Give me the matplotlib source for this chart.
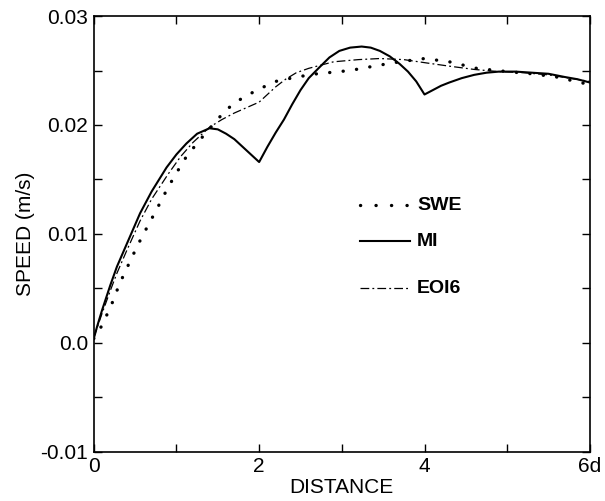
import matplotlib
matplotlib.use("Agg")
import matplotlib.pyplot as plt
from matplotlib.lines import Line2D
from matplotlib.ticker import FixedLocator, FixedFormatter, MultipleLocator

plt.rcParams['font.family'] = ['Liberation Sans', 'DejaVu Sans']

# MI (trait plein)
x_mi = [0, 0.04, 0.1, 0.2, 0.28, 0.4, 0.56, 0.7, 0.88, 1.0, 1.12, 1.25, 1.4,
        1.5, 1.6, 1.7, 1.8, 1.9, 2.0,
        2.1, 2.2, 2.3, 2.4, 2.5, 2.6, 2.73, 2.85, 2.97, 3.1, 3.24, 3.35, 3.46,
        3.58, 3.7, 3.8, 3.9, 4.0,
        4.1, 4.2, 4.3, 4.45, 4.6, 4.75, 4.9, 5.1, 5.3, 5.5, 5.7, 5.85, 6.0]
y_mi = [0.0004, 0.0015, 0.0030, 0.0053, 0.0070, 0.0091, 0.0119, 0.0139, 0.0161,
        0.0173, 0.0183, 0.0192, 0.0197,
        0.0196, 0.0192, 0.0187, 0.0180, 0.0173, 0.0166,
        0.0180, 0.0193, 0.0205, 0.0219, 0.0232, 0.0243, 0.0253, 0.0262, 0.0268,
        0.0271, 0.0272, 0.0271, 0.0268, 0.0263, 0.0256, 0.0249, 0.0240, 0.0228,
        0.0232, 0.0236, 0.0239, 0.0243, 0.0246, 0.0248, 0.0249, 0.0249, 0.0248,
        0.0247, 0.0244, 0.0242, 0.0239]

# EOI6 (trait mixte)
x_eoi = [0, 0.1, 0.2, 0.28, 0.4, 0.56, 0.7, 0.9, 1.05, 1.2, 1.4, 1.55, 1.7,
         1.85, 2.0, 2.1, 2.2, 2.32, 2.45, 2.6, 2.75, 2.9, 3.05, 3.2, 3.46, 3.75,
         4.02, 4.3, 4.6, 4.9, 5.2, 5.5, 5.75, 6.0]
y_eoi = [0.0005, 0.0027, 0.0048, 0.0064, 0.0085, 0.0112, 0.0132, 0.0155, 0.0171,
         0.0184, 0.0198, 0.0205, 0.0211, 0.0216, 0.0221, 0.0228, 0.0235, 0.0242,
         0.0248, 0.0252, 0.0255, 0.0258, 0.0259, 0.0260, 0.0261, 0.0260, 0.0257,
         0.0254, 0.0251, 0.0249, 0.0248, 0.0246, 0.0243, 0.0240]

# SWE (pointillé)
x_swe = [0, 0.07, 0.13, 0.23, 0.31, 0.47, 0.58, 0.75, 0.9, 1.0, 1.12, 1.28, 1.45,
         1.6, 1.8, 2.0, 2.2, 2.45, 2.7, 3.1, 3.46, 3.7, 4.0, 4.3, 4.63, 5.0,
         5.3, 5.6, 6.0]
y_swe = [0.0004, 0.0012, 0.0021, 0.0038, 0.0054, 0.0080, 0.0097, 0.0121, 0.0143,
         0.0156, 0.0171, 0.0186, 0.0201, 0.0214, 0.0225, 0.0233, 0.0240, 0.0244,
         0.0247, 0.0250, 0.0255, 0.0258, 0.0261, 0.0258, 0.0252, 0.0249, 0.0247,
         0.0244, 0.0237]

xticks = [0, 2, 4, 6]
xtick_labels = ["0", "2", "4", "6d"]
yticks = [-0.01, 0.0, 0.01, 0.02, 0.03]
ytick_labels = ["-0.01", "0.0", "0.01", "0.02", "0.03"]

fig = plt.figure(figsize=(6.05, 5.01), dpi=100)
ax = fig.add_axes([0.155, 0.098, 0.82, 0.870])

ax.plot(x_swe, y_swe, color='black', lw=2.4, linestyle=(0, (0.05, 4.0)),
        dash_capstyle='round', solid_capstyle='round')
ax.plot(x_mi, y_mi, color='black', lw=1.5)
ax.plot(x_eoi, y_eoi, color='black', lw=0.9, linestyle=(0, (7, 2.5, 1.5, 2.5)))

ax.set_xlim(0, 6)
ax.set_ylim(-0.01, 0.03)
ax.xaxis.set_major_locator(FixedLocator(xticks))
ax.xaxis.set_major_formatter(FixedFormatter(xtick_labels))
ax.xaxis.set_minor_locator(MultipleLocator(1))
ax.yaxis.set_major_locator(FixedLocator(yticks))
ax.yaxis.set_major_formatter(FixedFormatter(ytick_labels))
ax.yaxis.set_minor_locator(MultipleLocator(0.005))
ax.tick_params(which='both', direction='in', top=True, right=True,
               length=6, width=1, labelsize=15, pad=4)
for s in ax.spines.values():
    s.set_linewidth(1.2)

ax.set_xlabel("DISTANCE", fontsize=15, labelpad=1)
ax.set_ylabel("SPEED (m/s)", fontsize=15, labelpad=4)

# Légende manuelle
leg = [("SWE", dict(lw=2.4, linestyle=(0, (0.05, 4.6)), dash_capstyle='round'), 0.566),
       ("MI", dict(lw=1.5), 0.483),
       ("EOI6", dict(lw=0.9, linestyle=(0, (7, 2.5, 1.5, 2.5))), 0.375)]
for lab, kw, yy in leg:
    ax.add_line(Line2D([0.537, 0.637], [yy, yy], transform=ax.transAxes,
                       color='black', **kw))
    ax.text(0.652, yy, lab, transform=ax.transAxes, fontsize=14,
            fontweight='bold', va='center', ha='left')

plt.savefig("out.png", dpi=100)
